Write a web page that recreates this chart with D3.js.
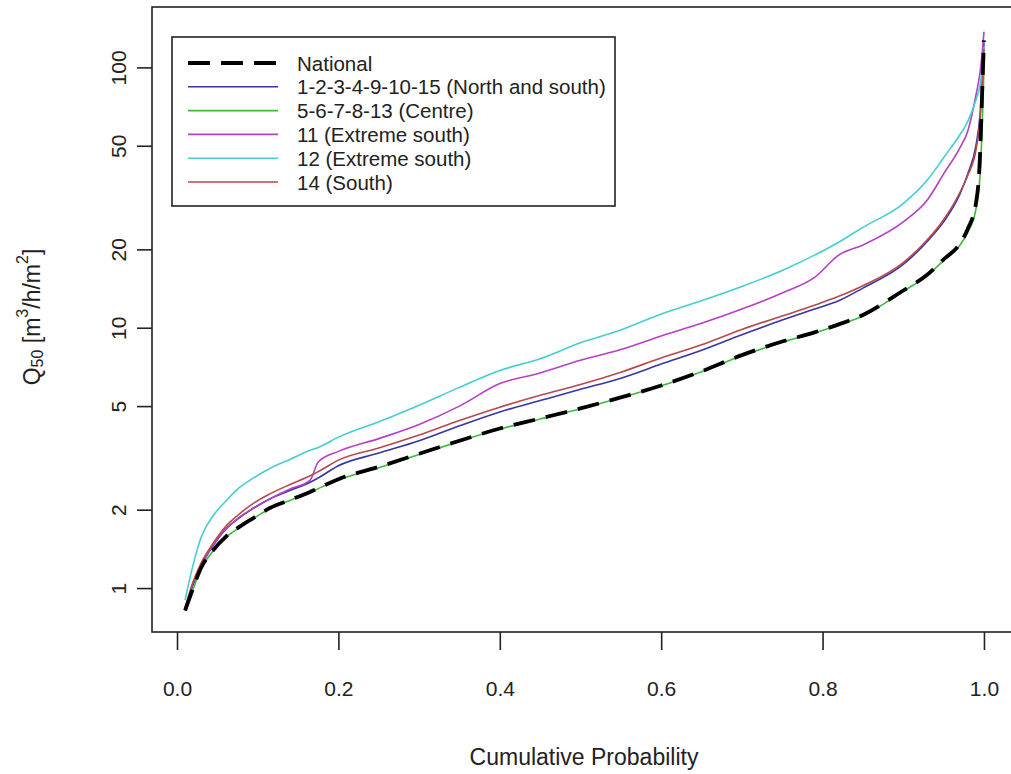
<!DOCTYPE html>
<html>
<head>
<meta charset="utf-8">
<script src="https://cdn.jsdelivr.net/npm/d3@7"></script>
<style>
  html, body { margin: 0; padding: 0; background: #fff; }
  svg text { font-family: "Liberation Sans", Arial, sans-serif; fill: #222; }
</style>
</head>
<body>
<svg id="chart" width="1011" height="774"></svg>
<script>
// ---------- data ----------
const prob = [0.01, 0.02, 0.03, 0.045, 0.06, 0.075, 0.095, 0.115, 0.14, 0.165, 0.175, 0.2, 0.25, 0.3, 0.35,
              0.4, 0.45, 0.5, 0.55, 0.6, 0.65, 0.7, 0.75, 0.79, 0.82, 0.85, 0.9, 0.93, 0.95, 0.97, 0.98,
              0.99, 0.995, 0.998, 1.0];

const national = [0.82, 1.0, 1.2, 1.40, 1.57, 1.70, 1.86, 2.03, 2.18, 2.34, 2.42, 2.62, 2.92, 3.28, 3.68,
                  4.1, 4.48, 4.9, 5.4, 6.0, 6.8, 7.85, 8.85, 9.6, 10.3, 11.2, 13.9, 16.0, 18.3, 21.0, 24.0,
                  30.0, 45, 85, 127];
const northSouth = [0.83, 1.03, 1.22, 1.46, 1.68, 1.84, 2.03, 2.2, 2.37, 2.55, 2.65, 2.95, 3.3, 3.68, 4.2,
                    4.75, 5.25, 5.8, 6.4, 7.25, 8.2, 9.4, 10.7, 11.8, 12.7, 14.2, 17.5, 21.5, 25.5, 32.5, 39,
                    50, 65, 90, 125];
const centre = [0.82, 0.99, 1.19, 1.39, 1.56, 1.69, 1.85, 2.02, 2.17, 2.33, 2.41, 2.6, 2.9, 3.26, 3.66,
                4.08, 4.46, 4.88, 5.38, 5.98, 6.78, 7.8, 8.8, 9.55, 10.25, 11.1, 13.8, 15.9, 18.1, 20.7, 23.3,
                28.5, 38, 62, 100];
const zone11 = [0.82, 1.05, 1.22, 1.47, 1.68, 1.85, 2.03, 2.2, 2.4, 2.6, 3.05, 3.35, 3.75, 4.25, 5.0,
                6.1, 6.7, 7.5, 8.25, 9.3, 10.4, 11.8, 13.6, 15.6, 19.0, 20.8, 25.5, 31, 39, 49, 57,
                78, 95, 115, 137];
const zone12 = [0.9, 1.23, 1.57, 1.9, 2.15, 2.4, 2.65, 2.88, 3.12, 3.38, 3.47, 3.8, 4.35, 5.04, 5.9,
                6.85, 7.6, 8.75, 9.8, 11.3, 12.7, 14.4, 16.6, 19, 21.3, 24.3, 30, 37, 45, 55, 62,
                75, 85, 100, 120];
const zone14 = [0.84, 1.06, 1.25, 1.49, 1.72, 1.9, 2.12, 2.3, 2.5, 2.7, 2.8, 3.1, 3.45, 3.87, 4.4,
                4.95, 5.5, 6.05, 6.75, 7.65, 8.6, 9.85, 11.1, 12.2, 13.2, 14.5, 17.8, 21.8, 26.0, 33, 38.5,
                48, 62, 85, 118];

const seriesNames = ["National", "1-2-3-4-9-10-15 (North and south)", "5-6-7-8-13 (Centre)",
                     "11 (Extreme south)", "12 (Extreme south)", "14 (South)"];
const seriesValues = [national, northSouth, centre, zone11, zone12, zone14];
const seriesColors = ["#000000", "#3535a8", "#3dba3d", "#b440c4", "#45cdd2", "#b84848"];

const xTicks = [0, 0.2, 0.4, 0.6, 0.8, 1.0];
const yTicks = [1, 2, 5, 10, 20, 50, 100];

// ---------- layout ----------
const svg = d3.select("#chart");
const pLeft = 152, pRight = 1016, pTop = 7, pBottom = 632;
const FS = 21;
const TFS = 23;

const x = d3.scaleLinear().domain([-0.031, 1.0397]).range([pLeft, pRight]);
const y = d3.scaleLog().domain([0.678, 170.6]).range([pBottom, pTop]);

// series (National drawn last, on top)
const line = d3.line().x(d => x(d[0])).y(d => y(d[1])).curve(d3.curveMonotoneX);
const order = [1, 2, 3, 4, 5, 0];
order.forEach(i => {
  const pts = prob.map((p, k) => [p, seriesValues[i][k]]);
  svg.append("path")
    .attr("d", line(pts))
    .attr("fill", "none")
    .attr("stroke", seriesColors[i])
    .attr("stroke-width", i === 0 ? 3.8 : 1.6)
    .attr("stroke-dasharray", i === 0 ? "22,11" : null)
    .attr("stroke-linejoin", "round");
});

// box
svg.append("rect")
  .attr("x", pLeft).attr("y", pTop)
  .attr("width", pRight - pLeft).attr("height", pBottom - pTop)
  .attr("fill", "none").attr("stroke", "#222").attr("stroke-width", 1.6);

// x axis
const xAxis = d3.axisBottom(x).tickValues(xTicks).tickSize(18).tickPadding(20)
  .tickFormat(d3.format(".1f"));
const gx = svg.append("g").attr("transform", `translate(0,${pBottom})`).call(xAxis);
gx.select(".domain").remove();
gx.selectAll(".tick line").attr("stroke", "#222").attr("stroke-width", 1.6);
gx.selectAll(".tick text").attr("font-size", FS).attr("font-family", "Liberation Sans, Arial, sans-serif")
  .attr("fill", "#222").attr("dy", null).attr("y", 56).attr("dominant-baseline", "central");

// y axis
const yAxis = d3.axisLeft(y).tickValues(yTicks).tickSize(15).tickFormat(d3.format("d"));
const gy = svg.append("g").attr("transform", `translate(${pLeft},0)`).call(yAxis);
gy.select(".domain").remove();
gy.selectAll(".tick line").attr("stroke", "#222").attr("stroke-width", 1.6);
gy.selectAll(".tick text")
  .attr("font-size", FS).attr("font-family", "Liberation Sans, Arial, sans-serif").attr("fill", "#222")
  .attr("x", null).attr("dy", null)
  .attr("text-anchor", "middle").attr("dominant-baseline", "central")
  .attr("transform", "translate(-34,0) rotate(-90)");

// x title
svg.append("text")
  .attr("x", (pLeft + pRight) / 2).attr("y", 757)
  .attr("text-anchor", "middle").attr("dominant-baseline", "central")
  .attr("font-size", TFS)
  .text("Cumulative Probability");

// y title
const yt = svg.append("text")
  .attr("transform", `translate(32,317) rotate(-90)`)
  .attr("text-anchor", "middle").attr("dominant-baseline", "central")
  .attr("font-size", TFS);
yt.append("tspan").text("Q");
yt.append("tspan").attr("font-size", 16).attr("dy", 5).text("50");
yt.append("tspan").attr("dy", -5).text(" [m");
yt.append("tspan").attr("font-size", 16).attr("dy", -10).text("3");
yt.append("tspan").attr("dy", 10).text("/h/m");
yt.append("tspan").attr("font-size", 16).attr("dy", -10).text("2");
yt.append("tspan").attr("dy", 10).text("]");

// legend
const lg = svg.append("g");
lg.append("rect").attr("x", 172).attr("y", 37).attr("width", 443).attr("height", 169)
  .attr("fill", "#fff").attr("stroke", "#222").attr("stroke-width", 1.6);
seriesNames.forEach((name, i) => {
  const yy = 63 + i * 23.8;
  lg.append("line").attr("x1", 188).attr("x2", 278).attr("y1", yy).attr("y2", yy)
    .attr("stroke", seriesColors[i])
    .attr("stroke-width", i === 0 ? 3.8 : 1.6)
    .attr("stroke-dasharray", i === 0 ? "22,11" : null);
  lg.append("text").attr("x", 297).attr("y", yy).attr("dominant-baseline", "central")
    .attr("font-size", 20.5).text(name);
});
</script>
</body>
</html>
